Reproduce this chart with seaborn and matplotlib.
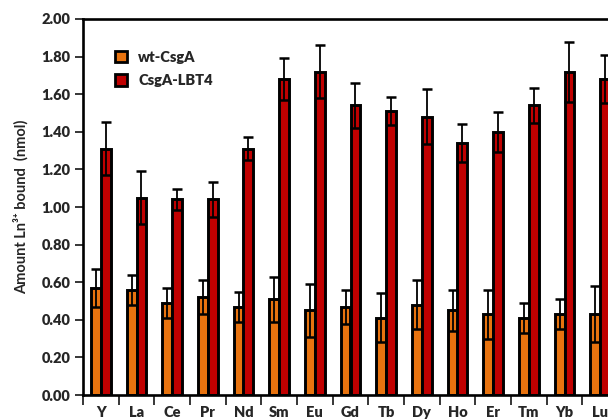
import matplotlib
matplotlib.use("Agg")
import matplotlib.pyplot as plt
import seaborn as sns
import pandas as pd
from matplotlib.patches import Patch

elements = ["Y", "La", "Ce", "Pr", "Nd", "Sm", "Eu", "Gd", "Tb", "Dy", "Ho", "Er", "Tm", "Yb", "Lu"]
wt_mean = [0.57, 0.56, 0.49, 0.52, 0.47, 0.51, 0.45, 0.47, 0.41, 0.48, 0.45, 0.43, 0.41, 0.43, 0.43]
wt_err = [0.10, 0.08, 0.08, 0.09, 0.08, 0.12, 0.14, 0.09, 0.13, 0.13, 0.11, 0.13, 0.08, 0.08, 0.15]
lbt_mean = [1.31, 1.05, 1.04, 1.04, 1.31, 1.68, 1.72, 1.54, 1.51, 1.48, 1.34, 1.40, 1.54, 1.72, 1.68]
lbt_err = [0.14, 0.14, 0.055, 0.095, 0.06, 0.11, 0.14, 0.12, 0.075, 0.145, 0.10, 0.105, 0.095, 0.16, 0.127]
series = ["wt-CsgA", "CsgA-LBT4"]
colors = ["#E8730F", "#C00000"]

df = pd.DataFrame({
    "element": elements * 2,
    "amount": wt_mean + lbt_mean,
    "err": wt_err + lbt_err,
    "strain": [series[0]] * len(elements) + [series[1]] * len(elements),
})

sns.set_style("white")
plt.rcParams["font.family"] = ["Lato", "DejaVu Sans"]
plt.rcParams["font.weight"] = "bold"

fig = plt.figure(figsize=(6.08, 4.19), dpi=100)
ax = fig.add_axes([83 / 608, 24 / 419, 535 / 608, 376 / 419])

sns.barplot(data=df, x="element", y="amount", hue="strain", order=elements,
            hue_order=series, palette=colors, width=0.56, errorbar=None,
            edgecolor="black", linewidth=2.1, saturation=1, ax=ax, legend=False)

# error bars centred on each bar
n = len(elements)
for k, (means, errs) in enumerate([(wt_mean, wt_err), (lbt_mean, lbt_err)]):
    patches = ax.patches[k * n:(k + 1) * n]
    xs = [p.get_x() + p.get_width() / 2 for p in patches]
    ax.errorbar(xs, means, yerr=errs, fmt="none", ecolor="black",
                elinewidth=1.3, capsize=3.4, capthick=1.8, zorder=5)

ax.set_xlim(-0.5, n - 0.5)
ax.set_ylim(0, 2.0)
ax.set_yticks([i * 0.2 for i in range(11)])
ax.set_yticklabels([f"{i * 0.2:.2f}" for i in range(11)], fontsize=10.5, fontweight="heavy")

# boundary ticks between groups, labels at group centres
ax.set_xticks([i - 0.5 for i in range(n + 1)])
ax.set_xticklabels([])
ax.set_xticks(range(n), minor=True)
ax.set_xticklabels(elements, minor=True, fontsize=10.5, fontweight="heavy")
ax.tick_params(axis="x", which="major", direction="out", length=7, width=1.3, bottom=True)
ax.tick_params(axis="x", which="minor", length=0, pad=8)
ax.tick_params(axis="y", direction="out", length=6, width=1.3, left=True, pad=3)

for s in ax.spines.values():
    s.set_linewidth(1.9)
    s.set_color("black")

ax.set_xlabel("")
ax.set_ylabel("Amount Ln³⁺ bound  (nmol)", fontsize=10.5, fontweight="bold", labelpad=9)

handles = [Patch(facecolor=c, edgecolor="black", linewidth=2.0) for c in colors]
ax.legend(handles, series, loc="upper left", bbox_to_anchor=(0.035, 0.95), frameon=False,
          handlelength=0.8, handleheight=0.8, handletextpad=0.8, labelspacing=0.7,
          prop={"weight": "heavy", "size": 10.5})

fig.savefig("out.png", dpi=100)
